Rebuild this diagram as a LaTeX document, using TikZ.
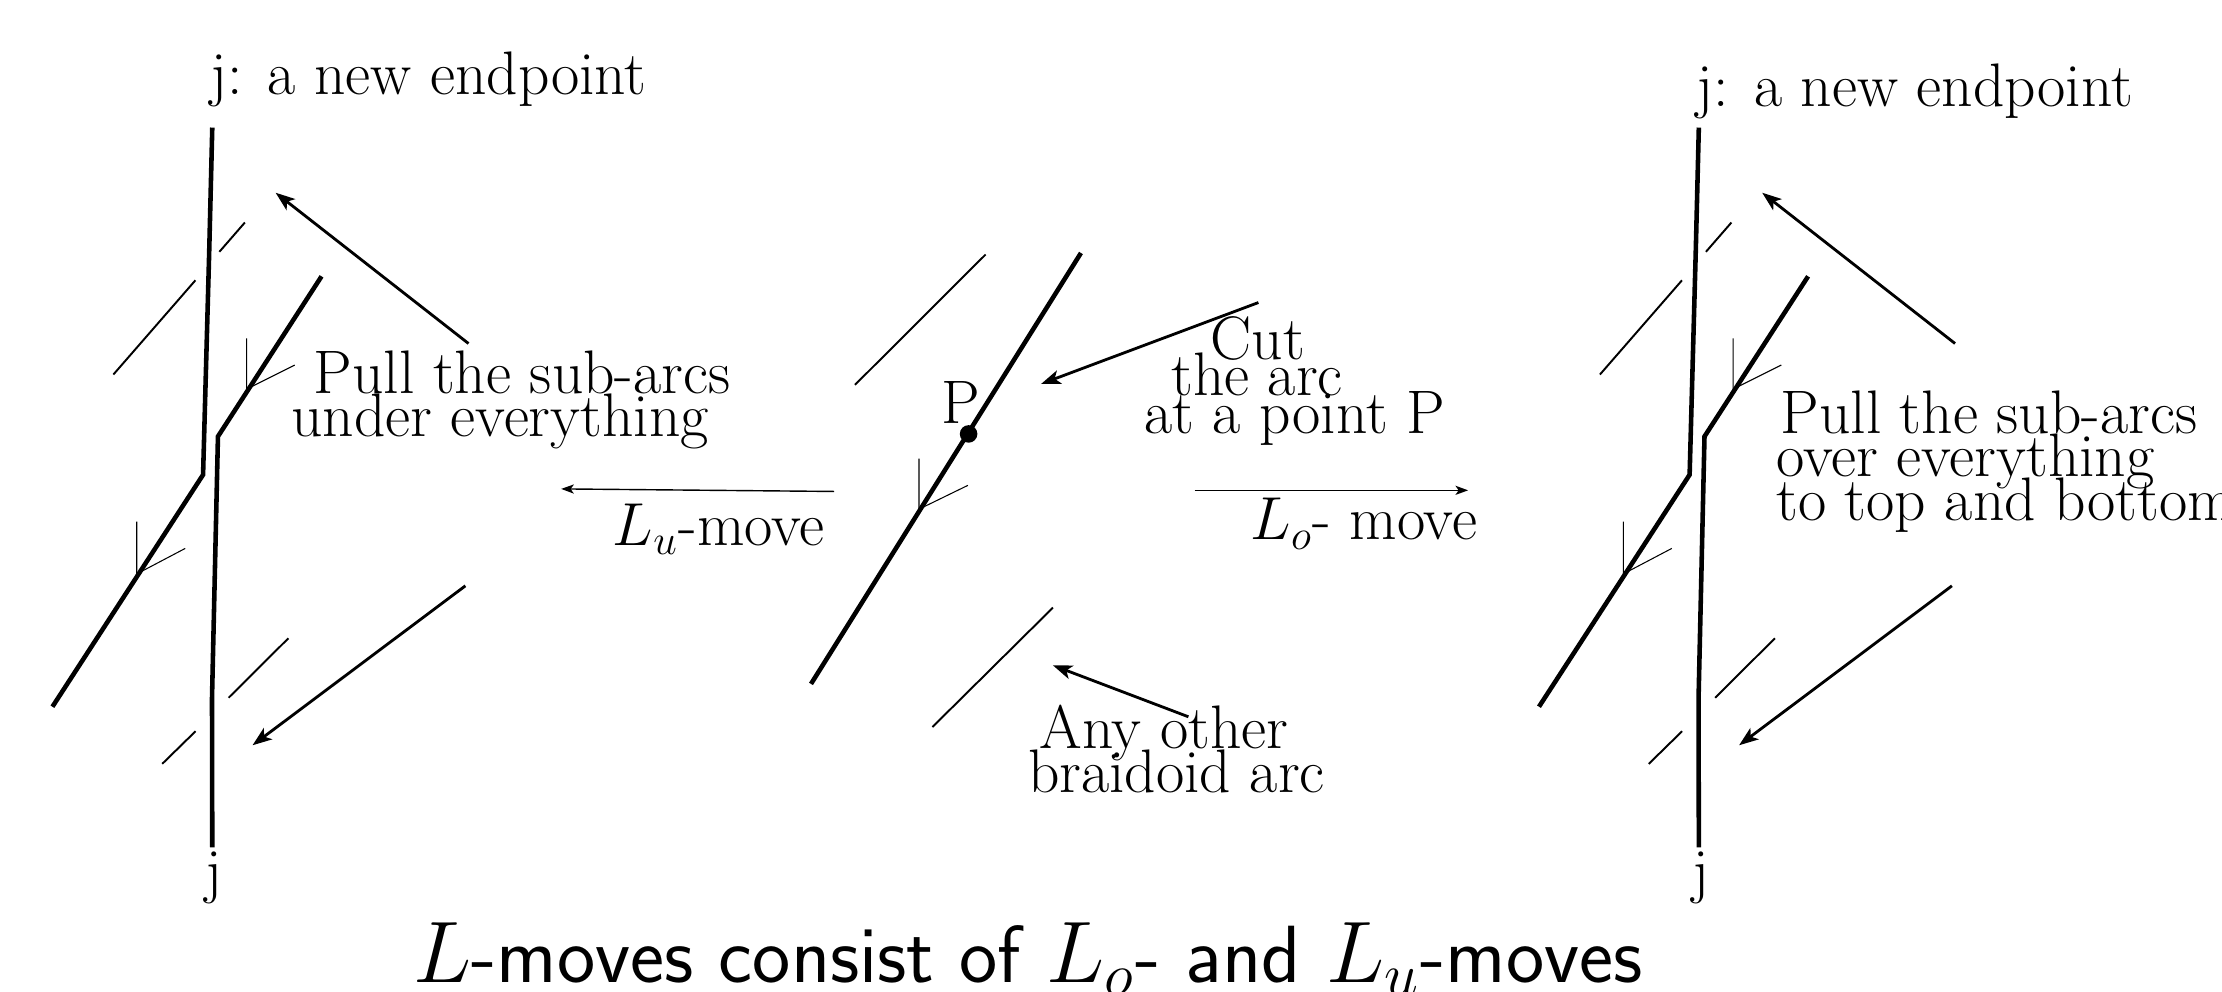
\documentclass[tikz,border=0pt]{standalone}
\usepackage{amsmath}
\usetikzlibrary{arrows.meta}
\begin{document}
\begin{tikzpicture}[x=0.014171cm, y=-0.014171cm,
          lbl/.style={font=\fontsize{17.5}{20}\selectfont, inner sep=0pt, anchor=base west},
          ttl/.style={font=\fontsize{23.1}{26}\selectfont\sffamily, inner sep=0pt, anchor=base west},
          strand/.style={line width=1.3pt},
          subarc/.style={line width=0.55pt},
          barb/.style={line width=0.3pt},
          pullarr/.style={-{Stealth[length=5.5pt,width=4pt,inset=1.4pt]}, line width=0.8pt},
          movearr/.style={-{Stealth[length=3.6pt,width=2.6pt,inset=0.9pt]}, line width=0.4pt}]
        \useasboundingbox (0,0) rectangle (1568,700);
        \clip (0,0) rectangle (1568,700);
        % left and right panels
        \foreach \dx/\pn in {0/l,1049/r} {
          \begin{scope}[shift={(\dx,0)}]
            \draw[strand] (149.8,90) -- (147.6,178.6) -- (143.3,335) -- (37,498.7);
            \draw[strand] (226.9,195) -- (153.8,308) -- (149.6,493) -- (149.8,598);
            \draw[subarc] (172.8,157) -- (154.8,177.7);
            \draw[subarc] (137.9,197.8) -- (80,264.3);
            \draw[subarc] (203.5,450.4) -- (161.3,492.4);
            \draw[subarc] (138,516) -- (114.5,539);
            \draw[barb] (174,238.8) -- (174,274.6) -- (208,257.6);
            \draw[barb] (96.5,368) -- (96.5,405) -- (130.7,387);
            \coordinate (up\pn) at (330.6,242.4);
            \coordinate (uptip\pn) at (194.5,136);
            \coordinate (dn\pn) at (328.4,413.4);
            \coordinate (dntip\pn) at (178.2,525.9);
            \draw[pullarr] (up\pn) -- (uptip\pn);
            \draw[pullarr] (dn\pn) -- (dntip\pn);
            \node[lbl] (jbot\pn) at (144.5,629) {j};
          \end{scope}
        }
        \node[lbl] (jtopl) at (148,67) {j: a new endpoint};
        \node[lbl] (jtopr) at (1197,75) {j: a new endpoint};
        % middle panel
        \draw[strand] (762.8,178.5) -- (572.3,482.6);
        \draw[subarc] (695.5,179.6) -- (603.3,271.6);
        \draw[subarc] (743,428.8) -- (658,513);
        \draw[barb] (648.5,323.6) -- (648.5,359.3) -- (683,342.5);
        \fill (683.5,306.2) circle (6.2);
        \node[lbl] (p) at (664,299) {P};
        % moves
        \coordinate (ustart) at (588.6,346.8);
        \coordinate (uend) at (396,345);
        \coordinate (ostart) at (843,346);
        \coordinate (oend) at (1036,346);
        \draw[movearr] (ustart) -- (uend);
        \draw[movearr] (ostart) -- (oend);
        \node[lbl] (lu) at (432,385) {$L_u$-move};
        \node[lbl] (lo) at (882,381) {$L_o$- move};
        % callouts
        \coordinate (cut) at (888,213.5);
        \coordinate (cuttip) at (734.7,270.9);
        \coordinate (other) at (838.6,505.8);
        \coordinate (othertip) at (743,469.5);
        \draw[pullarr] (cut) -- (cuttip);
        \draw[pullarr] (other) -- (othertip);
        \node[lbl] (pull1) at (221,278) {Pull the sub-arcs};
        \node[lbl] (pull2) at (205,308) {under everything};
        \node[lbl] (cut1) at (854,254) {Cut};
        \node[lbl] (cut2) at (826,279) {the arc};
        \node[lbl] (cut3) at (807,306) {at a point P};
        \node[lbl] (any1) at (733,528) {Any other};
        \node[lbl] (any2) at (725,559) {braidoid arc};
        \node[lbl] (over1) at (1256,306) {Pull the sub-arcs};
        \node[lbl] (over2) at (1253,336) {over everything};
        \node[lbl] (over3) at (1253,367) {to top and bottom};
        % title
        \node[ttl] (title) at (291,693) {$L$-moves consist of $L_o$- and $L_u$-moves};
      \end{tikzpicture}
\end{document}
